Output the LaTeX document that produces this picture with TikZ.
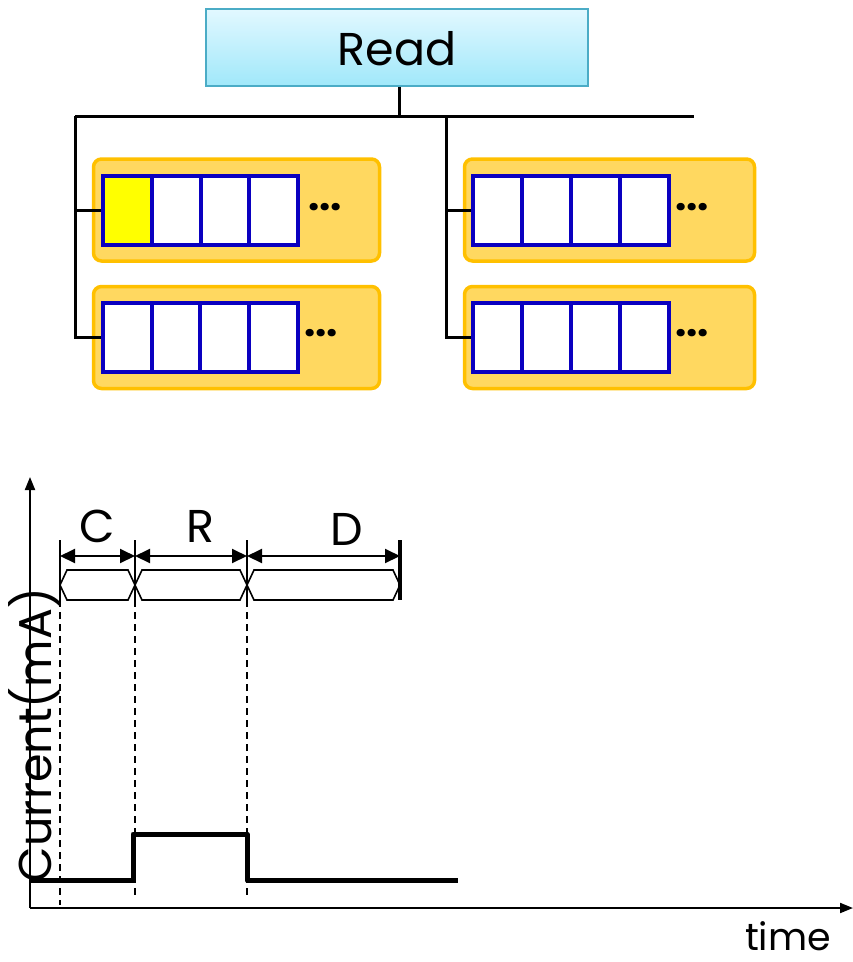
\documentclass[tikz,border=0pt]{standalone}
\usepackage{fontspec}
\setmainfont{Poppins}
\usetikzlibrary{arrows.meta}
\definecolor{readborder}{RGB}{75,172,198}
\definecolor{readtop}{RGB}{226,248,255}
\definecolor{readbot}{RGB}{160,232,250}
\definecolor{orangeborder}{RGB}{255,192,0}
\definecolor{orangefill}{RGB}{255,216,96}
\definecolor{cellblue}{RGB}{10,0,192}
\definecolor{celly}{RGB}{255,255,0}
\begin{document}
\begin{tikzpicture}[x=1pt,y=-1pt,
  readbox/.style={draw=readborder, line width=1.2pt, top color=readtop, bottom color=readbot, minimum width=382pt, minimum height=77pt, inner sep=0pt},
  bigtext/.style={font=\fontsize{46}{50}\selectfont, inner sep=0pt},
  panel/.style={draw=orangeborder, fill=orangefill, line width=3.5pt, rounded corners=8pt, minimum height=102pt, inner sep=0pt},
  cell/.style={draw=cellblue, fill=white, line width=4pt, minimum width=49pt, minimum height=69pt, inner sep=0pt},
  dotstext/.style={font=\fontsize{40}{40}\selectfont\bfseries, inner sep=0pt},
  wire/.style={line width=3pt, black},
  axis/.style={line width=2pt, -{Triangle[length=13pt,width=10pt]}},
  dim/.style={line width=2pt, {Triangle[length=15pt,width=14pt]}-{Triangle[length=15pt,width=14pt]}},
  hexa/.style={line width=1.6pt},
  guide/.style={line width=1.5pt, dash pattern=on 7pt off 5pt},
  tick/.style={line width=1.6pt},
  wave/.style={line width=5pt, line join=round}
]
\useasboundingbox (0,0) rectangle (853,962);

% Read box
\node[readbox] (read) at (397,47.5) {};
\node[bigtext, anchor=base] (readtxt) at (397,65) {Read};

% panels
\node[panel, minimum width=286pt] (pLT) at (236.5,210) {};
\node[panel, minimum width=286pt] (pLB) at (236.5,337.5) {};
\node[panel, minimum width=290pt] (pRT) at (609.5,210) {};
\node[panel, minimum width=290pt] (pRB) at (609.5,337.5) {};

% cells
\foreach \n/\cx in {1/127.5,2/176,3/224.5,4/273.5}{
  \node[cell] (lt\n) at (\cx,210.5) {};
  \node[cell] (lb\n) at (\cx,337.5) {};
}
\foreach \n/\cx in {1/497.5,2/546.5,3/595.5,4/644.5}{
  \node[cell] (rt\n) at (\cx,210.5) {};
  \node[cell] (rb\n) at (\cx,337.5) {};
}
\node[cell, fill=celly] (lt1y) at (127.5,210.5) {};
\node[cell] at (176,210.5) {};

% dots
\node[dotstext] (dLT) at (325,207) {...};
\node[dotstext] (dLB) at (321,333) {...};
\node[dotstext] (dRT) at (692,207) {...};
\node[dotstext] (dRB) at (692,333) {...};

% tree wires
\coordinate (hL) at (75,116);
\coordinate (hR) at (694,116);
\coordinate (jR) at (446,116);
\coordinate (hub) at (399,116);
\draw[wire] (hub |- read.south) -- (hub);
\draw[wire] (hL) -- (hR);
\draw[wire] (hL) |- (lt1y.west);
\draw[wire] (hL) |- (lb1.west);
\draw[wire] (jR) |- (rt1.west);
\draw[wire] (jR) |- (rb1.west);

% timing diagram
\coordinate (O) at (30,908);
\coordinate (Ytop) at (30,477);
\coordinate (Xend) at (853,908);
\draw[axis] (O) -- (Ytop);
\draw[axis] (O) -- (Xend);

\coordinate (a) at (60,556);
\coordinate (b) at (135,556);
\coordinate (c) at (247,556);
\coordinate (d) at (400,556);

\draw[tick] (60,540) -- (60,600);
\draw[tick] (135,540) -- (135,600);
\draw[tick] (247,540) -- (247,600);
\draw[line width=3.5pt] (400,540) -- (400,600);

\draw[dim] (a) -- (b);
\draw[dim] (b) -- (c);
\draw[dim] (c) -- (d);

\foreach \xa/\xb in {60/135,135/247,247/400}{
  \draw[hexa] (\xa,585) -- (\xa+7,570) -- (\xb-7,570) -- (\xb,585) -- (\xb-7,600) -- (\xa+7,600) -- cycle;
}

\draw[guide] (60,600) -- (60,905);
\draw[guide] (135,600) -- (135,895);
\draw[guide] (247,600) -- (247,895);

\node[bigtext, anchor=base] (lC) at (97,542) {C};
\node[bigtext, anchor=base] (lR) at (200,542) {R};
\node[bigtext, anchor=base] (lD) at (347,545) {D};

\draw[wave] (30,880) -- (133,880) -- (133,834) -- (247,834) -- (247,880) -- (458,880);

\node[bigtext, anchor=base, rotate=90] (ylab) at (51,735) {Current(mA)};
\node[font=\fontsize{38}{40}\selectfont, inner sep=0pt, anchor=base] (xlab) at (788,950) {time};
\end{tikzpicture}
\end{document}
